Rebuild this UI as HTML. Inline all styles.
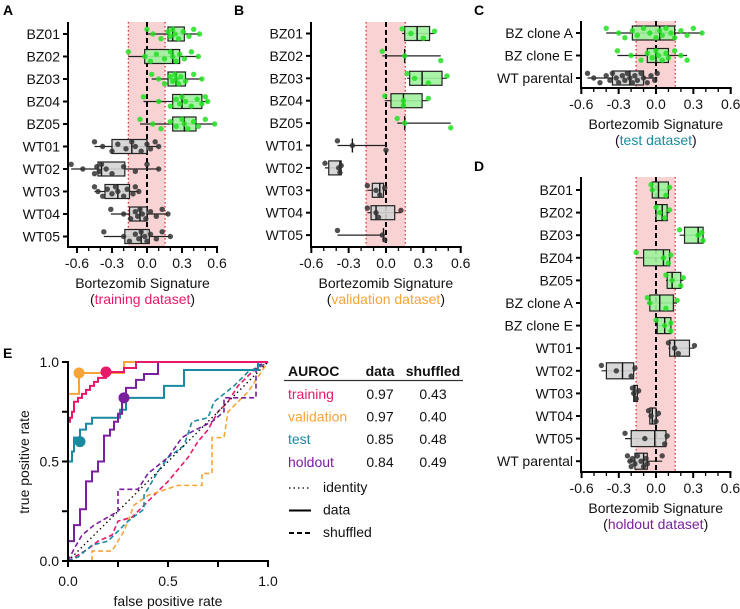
<!DOCTYPE html>
<html><head><meta charset="utf-8">
<style>
html,body{margin:0;padding:0;background:#fff;}
svg{display:block;font-family:"Liberation Sans",Arial,sans-serif;}
</style></head>
<body>
<svg id="fig" width="740" height="609" viewBox="0 0 740 609">
  <text x="3" y="15" font-size="14" font-weight="bold">A</text>
  <text x="234" y="15" font-size="14" font-weight="bold">B</text>
  <text x="474" y="15" font-size="14" font-weight="bold">C</text>
  <text x="474" y="171" font-size="14" font-weight="bold">D</text>
  <text x="3" y="358" font-size="14" font-weight="bold">E</text>
</svg>
<script>
// ---------- DATA ----------
const catsA = ["BZ01","BZ02","BZ03","BZ04","BZ05","WT01","WT02","WT03","WT04","WT05"];
const statsA = [
 [0.00,0.18,0.22,0.32,0.45],[-0.16,-0.02,0.22,0.28,0.44],[0.04,0.18,0.25,0.33,0.47],
 [-0.03,0.22,0.30,0.47,0.52],[-0.06,0.22,0.32,0.42,0.58],[-0.45,-0.30,-0.13,0.00,0.10],
 [-0.65,-0.42,-0.39,-0.19,0.10],[-0.45,-0.36,-0.25,-0.15,-0.07],[-0.31,-0.15,-0.06,0.00,0.18],
 [-0.37,-0.19,-0.05,0.02,0.20]];
const ptsA = [
 [0.00,0.05,0.12,0.18,0.2,0.22,0.24,0.27,0.31,0.36,0.4,0.45],
 [-0.16,-0.02,0.03,0.08,0.15,0.2,0.22,0.25,0.28,0.32,0.38,0.44],
 [0.04,0.1,0.15,0.2,0.22,0.24,0.25,0.27,0.29,0.33,0.4,0.47],
 [-0.03,0.1,0.2,0.25,0.28,0.3,0.33,0.38,0.43,0.47,0.5,0.52],
 [-0.06,0.05,0.12,0.2,0.25,0.3,0.32,0.35,0.4,0.44,0.5,0.58],
 [-0.45,-0.38,-0.3,-0.25,-0.18,-0.13,-0.1,-0.05,0.0,0.03,0.07,0.1],
 [-0.65,-0.55,-0.45,-0.43,-0.41,-0.39,-0.35,-0.3,-0.2,-0.1,0.0,0.1],
 [-0.45,-0.42,-0.38,-0.34,-0.3,-0.27,-0.25,-0.2,-0.17,-0.12,-0.1,-0.07],
 [-0.31,-0.2,-0.14,-0.1,-0.08,-0.06,-0.04,-0.01,0.03,0.08,0.13,0.18],
 [-0.37,-0.2,-0.15,-0.1,-0.07,-0.05,-0.02,0.0,0.03,0.08,0.13,0.2]];
const isBzA = [1,1,1,1,1,0,0,0,0,0];

const catsB = ["BZ01","BZ02","BZ03","BZ04","BZ05","WT01","WT02","WT03","WT04","WT05"];
const statsB = [
 [0.13,0.15,0.25,0.35,0.39],[-0.03,0.15,0.15,0.15,0.44],[0.17,0.19,0.29,0.45,0.49],
 [-0.01,0.04,0.14,0.29,0.34],[0.09,0.15,0.15,0.15,0.52],[-0.39,-0.27,-0.27,-0.27,0.0],
 [-0.49,-0.46,-0.37,-0.36,-0.36],[-0.15,-0.11,-0.05,-0.02,0.0],[-0.15,-0.12,-0.08,0.07,0.12],
 [-0.39,-0.02,-0.02,-0.02,-0.01]];
const ptsB = [[0.13,0.2,0.3,0.39],[-0.03,0.15,0.44],[0.17,0.23,0.34,0.49],[-0.01,0.14,0.14,0.34],
 [0.09,0.15,0.52],[-0.39,-0.27,0.0],[-0.49,-0.38,-0.37,-0.36],[-0.15,-0.08,-0.05,-0.01],
 [-0.15,-0.08,-0.06,0.12],[-0.39,-0.03,-0.01]];
const isBzB = [1,1,1,1,1,0,0,0,0,0];

const catsC = ["BZ clone A","BZ clone E","WT parental"];
const statsC = [[-0.40,-0.19,0.03,0.15,0.37],[-0.31,-0.07,0.0,0.10,0.25],[-0.55,-0.35,-0.21,-0.10,0.01]];
const ptsC = [
 [-0.4,-0.3,-0.25,-0.19,-0.15,-0.1,-0.05,0.0,0.03,0.05,0.08,0.12,0.15,0.2,0.25,0.3,0.37],
 [-0.31,-0.2,-0.12,-0.07,-0.03,0.0,0.02,0.05,0.08,0.1,0.15,0.2,0.25],
 [-0.55,-0.5,-0.45,-0.4,-0.37,-0.35,-0.32,-0.3,-0.27,-0.25,-0.23,-0.21,-0.19,-0.17,-0.15,-0.12,-0.1,-0.07,-0.04,-0.01,0.01]];
const isBzC = [1,1,0];

const catsD = ["BZ01","BZ02","BZ03","BZ04","BZ05","BZ clone A","BZ clone E","WT01","WT02","WT03","WT04","WT05","WT parental"];
const statsD = [
 [-0.04,-0.03,0.02,0.10,0.11],[0.0,0.0,0.05,0.09,0.11],[0.19,0.23,0.34,0.38,0.38],
 [-0.16,-0.10,0.06,0.11,0.12],[0.08,0.09,0.13,0.20,0.22],[-0.07,-0.05,0.03,0.14,0.17],
 [0.0,0.01,0.07,0.12,0.12],[0.10,0.11,0.15,0.27,0.31],[-0.44,-0.40,-0.27,-0.18,-0.17],
 [-0.19,-0.18,-0.17,-0.15,-0.14],[-0.06,-0.05,-0.03,0.0,0.02],[-0.25,-0.20,-0.01,0.08,0.09],
 [-0.23,-0.17,-0.10,-0.07,0.05]];
const ptsD = [[-0.04,-0.03,0.08,0.11],[0.0,0.03,0.07,0.11],[0.19,0.34,0.38,0.37],[-0.16,0.06,0.1,0.12],
 [0.08,0.13,0.2,0.22],[-0.07,-0.05,0.08,0.17],[0.0,0.07,0.12,0.12],[0.1,0.15,0.18,0.31],
 [-0.44,-0.32,-0.2,-0.17],[-0.19,-0.18,-0.16,-0.14],[-0.06,-0.04,0.0,0.02],[-0.25,-0.09,0.07,0.09],
 [-0.23,-0.21,-0.2,-0.19,-0.17,-0.15,-0.12,-0.1,-0.08,-0.07,0.05]];
const isBzD = [1,1,1,1,1,1,1,0,0,0,0,0,0];

const xTicks = [-0.6,-0.3,0.0,0.3,0.6];
const xTickLabels = ["-0.6","-0.3","0.0","0.3","0.6"];
const bandLimits = [-0.16,0.155];

// ROC data: [fpr, tpr] step points
const rocTrain = [[0,0],[0,0.7],[0.01,0.72],[0.02,0.75],[0.03,0.8],[0.05,0.82],[0.07,0.84],[0.09,0.86],[0.11,0.88],[0.13,0.9],[0.15,0.92],[0.19,0.95],[0.26,0.95],[0.28,0.97],[0.34,0.97],[0.34,1.0],[1,1]];
const rocVal = [[0,0],[0,0.84],[0.055,0.84],[0.055,0.945],[0.28,0.945],[0.28,1.0],[1,1]];
const rocTest = [[0,0],[0,0.5],[0.02,0.5],[0.02,0.55],[0.03,0.55],[0.03,0.62],[0.06,0.62],[0.06,0.66],[0.09,0.66],[0.09,0.69],[0.12,0.69],[0.12,0.72],[0.26,0.72],[0.26,0.76],[0.29,0.76],[0.29,0.82],[0.48,0.82],[0.48,0.88],[0.58,0.88],[0.58,0.96],[0.95,0.96],[0.95,1.0],[1,1]];
const rocHold = [[0,0],[0,0.1],[0.03,0.1],[0.03,0.18],[0.06,0.18],[0.06,0.26],[0.09,0.26],[0.09,0.4],[0.12,0.4],[0.12,0.45],[0.15,0.45],[0.15,0.5],[0.18,0.5],[0.18,0.63],[0.21,0.63],[0.21,0.66],[0.23,0.66],[0.23,0.7],[0.25,0.7],[0.25,0.74],[0.27,0.74],[0.27,0.82],[0.29,0.82],[0.29,0.87],[0.34,0.87],[0.34,0.91],[0.38,0.91],[0.38,0.94],[0.45,0.94],[0.45,1.0],[1,1]];
const shufTrain = [[0,0],[0.05,0.03],[0.1,0.06],[0.15,0.1],[0.22,0.13],[0.25,0.2],[0.32,0.22],[0.38,0.28],[0.45,0.35],[0.5,0.4],[0.55,0.46],[0.6,0.52],[0.65,0.6],[0.7,0.66],[0.75,0.75],[0.8,0.8],[0.85,0.88],[0.92,0.95],[1,1]];
const shufVal = [[0,0],[0.12,0.0],[0.12,0.05],[0.22,0.05],[0.28,0.15],[0.33,0.28],[0.4,0.33],[0.55,0.38],[0.67,0.38],[0.67,0.44],[0.72,0.44],[0.72,0.62],[0.78,0.62],[0.8,0.75],[0.9,0.85],[1,1]];
const shufTest = [[0,0],[0.05,0.02],[0.12,0.08],[0.2,0.1],[0.3,0.2],[0.38,0.26],[0.38,0.33],[0.45,0.45],[0.5,0.52],[0.58,0.58],[0.62,0.7],[0.7,0.72],[0.73,0.8],[0.83,0.88],[0.9,0.95],[1,1]];
const shufHold = [[0,0],[0.03,0.06],[0.07,0.13],[0.13,0.18],[0.25,0.25],[0.25,0.36],[0.35,0.36],[0.4,0.44],[0.5,0.52],[0.57,0.62],[0.62,0.65],[0.72,0.7],[0.78,0.75],[0.78,0.82],[0.94,0.82],[0.94,0.98],[1,1]];
const markers = [[0.19,0.95],[0.055,0.945],[0.06,0.6],[0.28,0.82]];
const rocNames = ["training","validation","test","holdout"];
const aurocData = ["0.97","0.97","0.85","0.84"];
const aurocShuf = ["0.43","0.40","0.48","0.49"];
const rocColors = ["#e8196a","#f6a43a","#1a8aa0","#7a1f9e"];

// ---------- DRAWING ----------
const NS = "http://www.w3.org/2000/svg";
const svg = document.getElementById("fig");
const FS = 14;
function mk(tag, attrs, parent){
  const e = document.createElementNS(NS, tag);
  for (const k in attrs) e.setAttribute(k, attrs[k]);
  (parent||svg).appendChild(e);
  return e;
}

function boxPanel(cfg, cats, stats, pts, isBz){
  const g = mk("g", {});
  
  
  const X = v => cfg.x0 + v*cfg.s;
  const Y = i => cfg.row0 + i*cfg.dy;
  const band = mk("rect", {x:X(bandLimits[0]), y:cfg.top, width:X(bandLimits[1])-X(bandLimits[0]), height:cfg.bottom-cfg.top, fill:"#f9d3d3"}, g);
  
  
  for (const b of bandLimits){
    const l = mk("line", {x1:X(b), x2:X(b), y1:cfg.top, y2:cfg.bottom, stroke:"#e0303a", "stroke-width":1.3, "stroke-dasharray":"1.5,2.5"}, g);
    
    
  }
  const zl = mk("line", {x1:X(0), x2:X(0), y1:cfg.top, y2:cfg.bottom, stroke:"#000", "stroke-width":2, "stroke-dasharray":"5,3"}, g);
  
  
  const h = cfg.bh;
  cats.forEach((c,i)=>{
    const y = Y(i), st = stats[i], bz = isBz[i];
    const rg = mk("g", {}, g);
    
    
    mk("line", {x1:X(st[0]), x2:X(st[4]), y1:y, y2:y, stroke:"#222", "stroke-width":1.2}, rg);
    mk("rect", {x:X(st[1]), y:y-h, width:Math.max(0,X(st[3])-X(st[1])), height:2*h, fill:bz?"#9ef29e":"#d4d4d4", "fill-opacity":0.9, stroke:"#222", "stroke-width":1.2}, rg);
    mk("line", {x1:X(st[2]), x2:X(st[2]), y1:y-h, y2:y+h, stroke:"#111", "stroke-width":1.4}, rg);
    pts[i].forEach((v,j)=>{
      const off = (((j*7)%5)-2) * (h/3);
      const p = mk("circle", {cx:X(v), cy:y+off, r:2.7, fill:bz?"#22e022":"#333", "fill-opacity":0.85}, rg);
      
      
    });
    const lab = mk("text", {x:cfg.axisX-8, y:y+5, "font-size":FS, "text-anchor":"end", fill:"#111"}, g);
    lab.textContent = c;
    
    
    mk("line", {x1:cfg.axisX-5, x2:cfg.axisX, y1:y, y2:y, stroke:"#000", "stroke-width":2}, g);
  });
  const ya = mk("line", {x1:cfg.axisX, x2:cfg.axisX, y1:cfg.top, y2:cfg.bottom+1, stroke:"#000", "stroke-width":2}, g);
  
  
  const xa = mk("line", {x1:cfg.axisX-1, x2:X(0.6)+1, y1:cfg.bottom, y2:cfg.bottom, stroke:"#000", "stroke-width":2}, g);
  
  
  for (let k=-6;k<=6;k++){
    const v = k/10; if (X(v) < cfg.axisX-0.5) continue;
    const major = (k%3===0);
    mk("line", {x1:X(v), x2:X(v), y1:cfg.bottom, y2:cfg.bottom+(major?6:4), stroke:"#000", "stroke-width":major?2:1.3}, g);
  }
  xTicks.forEach((v,i)=>{
    const t = mk("text", {x:X(v), y:cfg.bottom+21, "font-size":FS, "text-anchor":"middle", fill:"#111"}, g);
    t.textContent = xTickLabels[i];
    
    
  });
  const cx = (cfg.axisX + X(0.6))/2;
  const t1 = mk("text", {x:cx, y:cfg.bottom+41, "font-size":FS, "text-anchor":"middle", fill:"#111"}, g);
  t1.textContent = "Bortezomib Signature";
  
  
  const t2 = mk("text", {x:cx, y:cfg.bottom+57, "font-size":FS, "text-anchor":"middle", fill:"#111"}, g);
  
  
  t2.appendChild(document.createTextNode("("));
  const ts = mk("tspan", {fill:cfg.subColor}, t2);
  ts.textContent = cfg.sub;
  t2.appendChild(document.createTextNode(")"));
}

boxPanel({name:"panel-a-training", x0:147, s:116.7, axisX:68, top:22, bottom:247, row0:34, dy:22.5, bh:7, sub:"training dataset", subColor:"#e8196a"}, catsA, statsA, ptsA, isBzA);
boxPanel({name:"panel-b-validation", x0:386, s:124.5, axisX:311, top:22, bottom:247, row0:33.5, dy:22.4, bh:7, sub:"validation dataset", subColor:"#f6a43a"}, catsB, statsB, ptsB, isBzB);
boxPanel({name:"panel-c-test", x0:656, s:124.5, axisX:581, top:21, bottom:88, row0:33, dy:22.5, bh:7, sub:"test dataset", subColor:"#1a8aa0"}, catsC, statsC, ptsC, isBzC);
boxPanel({name:"panel-d-holdout", x0:656, s:124, axisX:581, top:177, bottom:472, row0:190, dy:22.6, bh:8, sub:"holdout dataset", subColor:"#7a1f9e"}, catsD, statsD, ptsD, isBzD);

// ---------- ROC panel E ----------
const EX = v => 68 + v*200;
const EY = v => 561 - v*199;
const eg = mk("g", {});


function stepPath(arr){
  let d = "M"+EX(arr[0][0])+","+EY(arr[0][1]);
  for (let i=1;i<arr.length;i++){
    d += " L"+EX(arr[i][0])+","+EY(arr[i-1][1])+" L"+EX(arr[i][0])+","+EY(arr[i][1]);
  }
  return d;
}
function linePath(arr){
  return "M" + arr.map(p=>EX(p[0])+","+EY(p[1])).join(" L");
}
const shufs = [shufTrain, shufVal, shufTest, shufHold];
shufs.forEach((s,i)=>{
  const p = mk("path", {d:linePath(s), fill:"none", stroke:rocColors[i], "stroke-width":1.6, "stroke-dasharray":"5,3"}, eg);
  
  
});
const idl = mk("line", {x1:EX(0), y1:EY(0), x2:EX(1), y2:EY(1), stroke:"#000", "stroke-width":1.3, "stroke-dasharray":"1.5,3"}, eg);


const rocs = [rocTrain, rocVal, rocTest, rocHold];
[2,3,1,0].forEach(i=>{
  const p = mk("path", {d:stepPath(rocs[i]), fill:"none", stroke:rocColors[i], "stroke-width":2}, eg);
  
  
});
markers.forEach((m,i)=>{
  const c = mk("circle", {cx:EX(m[0]), cy:EY(m[1]), r:5.5, fill:rocColors[i]}, eg);
  
  
});
const eya = mk("line", {x1:68, x2:68, y1:361, y2:562, stroke:"#000", "stroke-width":2}, eg);


const exa = mk("line", {x1:67, x2:269, y1:561, y2:561, stroke:"#000", "stroke-width":2}, eg);


[0,0.25,0.5,0.75,1].forEach(v=>{
  mk("line", {x1:EX(v), x2:EX(v), y1:561, y2:567, stroke:"#000", "stroke-width":2}, eg);
  mk("line", {x1:62, x2:68, y1:EY(v), y2:EY(v), stroke:"#000", "stroke-width":2}, eg);
});
const eTicks = [0,0.5,1], eTickLabels = ["0.0","0.5","1.0"];
eTicks.forEach((v,i)=>{
  const t = mk("text", {x:EX(v), y:586, "font-size":FS, "text-anchor":"middle", fill:"#111"}, eg);
  t.textContent = eTickLabels[i];
  
  
  const u = mk("text", {x:59, y:EY(v)+5, "font-size":FS, "text-anchor":"end", fill:"#111"}, eg);
  u.textContent = eTickLabels[i];
  
  
});
const ext = mk("text", {x:168, y:606, "font-size":FS, "text-anchor":"middle", fill:"#111"}, eg);
ext.textContent = "false positive rate";


const eyt = mk("text", {x:0, y:0, "font-size":FS, "text-anchor":"middle", fill:"#111", transform:"translate(29,462) rotate(-90)"}, eg);
eyt.textContent = "true positive rate";



// table
const tg = mk("g", {});


const hdr = [["AUROC",288,"start"],["data",380,"middle"],["shuffled",433,"middle"]];
hdr.forEach(h=>{
  const t = mk("text", {x:h[1], y:376, "font-size":FS, "font-weight":"bold", "text-anchor":h[2], fill:"#111"}, tg);
  t.textContent = h[0];
  
  
});
mk("line", {x1:284, x2:463, y1:380.5, y2:380.5, stroke:"#333", "stroke-width":1.3}, tg);
rocNames.forEach((n,i)=>{
  const y = 399 + i*22.6;
  const a = mk("text", {x:288, y:y, "font-size":FS, fill:rocColors[i]}, tg);
  a.textContent = n;
  
  
  const b = mk("text", {x:380, y:y, "font-size":FS, "text-anchor":"middle", fill:"#111"}, tg);
  b.textContent = aurocData[i];
  
  
  const c = mk("text", {x:433, y:y, "font-size":FS, "text-anchor":"middle", fill:"#111"}, tg);
  c.textContent = aurocShuf[i];
  
  
});
const leg = [["identity","1.5,3",1.3],["data","",2],["shuffled","5,3",2]];
leg.forEach((l,i)=>{
  const y = 492 + i*22.5;
  const ln = mk("line", {x1:289, x2:311, y1:y-4, y2:y-4, stroke:"#000", "stroke-width":l[2], "stroke-dasharray":l[1]||"none"}, tg);
  
  
  const t = mk("text", {x:323, y:y, "font-size":FS, fill:"#111"}, tg);
  t.textContent = l[0];
  
  
});
</script>
</body></html>
